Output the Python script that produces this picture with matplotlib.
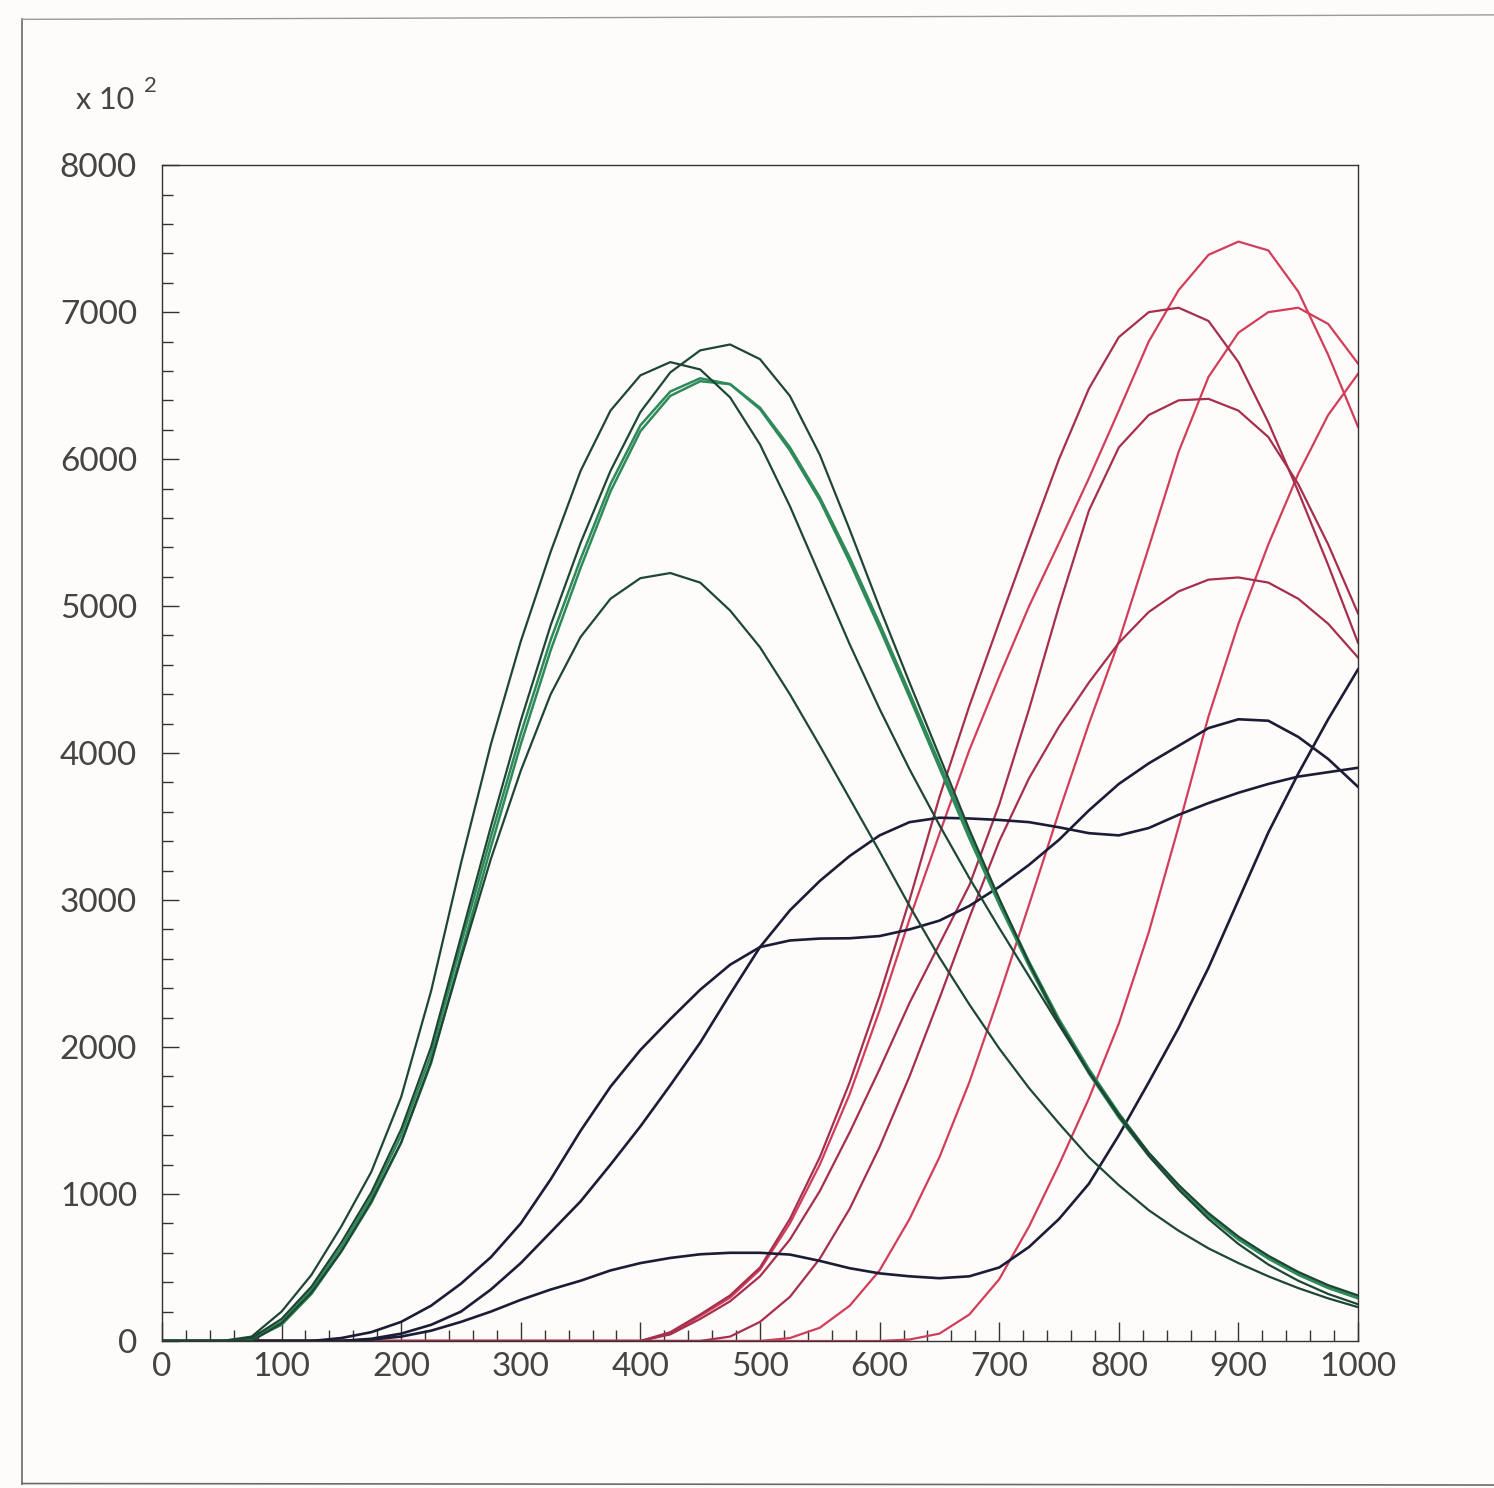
import matplotlib
matplotlib.use("Agg")
import matplotlib.pyplot as plt
from matplotlib.lines import Line2D
from matplotlib.ticker import MultipleLocator

# shared abscissa, read every 25 units
x = list(range(0, 1001, 25))

# dark green family
green_1 = [0, 0, 0, 30, 200, 450, 780, 1150, 1660, 2380, 3250, 4060, 4760, 5370, 5920, 6330,
           6570, 6660, 6610, 6420, 6100, 5680, 5210, 4740, 4300, 3890, 3510, 3150, 2810, 2480,
           2150, 1830, 1530, 1260, 1030, 830, 660, 520, 410, 320, 250]
green_2 = [0, 0, 0, 20, 150, 370, 670, 1010, 1440, 2000, 2750, 3500, 4220, 4870, 5430, 5920,
           6320, 6590, 6740, 6780, 6680, 6430, 6030, 5520, 4990, 4480, 3980, 3480, 3010, 2570,
           2170, 1830, 1540, 1280, 1060, 870, 710, 580, 470, 380, 310]
green_5 = [0, 0, 0, 0, 120, 330, 610, 950, 1350, 1900, 2600, 3280, 3880, 4400, 4790, 5050,
           5190, 5225, 5160, 4970, 4720, 4400, 4050, 3690, 3330, 2960, 2610, 2290, 1990, 1720,
           1480, 1250, 1060, 890, 750, 630, 530, 440, 360, 290, 230]
# bright green pair
pair_a = [0, 0, 0, 15, 130, 350, 640, 980, 1400, 1950, 2700, 3430, 4130, 4770, 5320, 5830,
          6230, 6460, 6550, 6510, 6340, 6060, 5720, 5300, 4850, 4380, 3900, 3420, 2970, 2550,
          2160, 1820, 1520, 1260, 1040, 850, 690, 560, 450, 360, 290]
pair_b = [0, 0, 0, 10, 110, 320, 610, 940, 1350, 1890, 2630, 3360, 4060, 4700, 5260, 5780,
          6190, 6430, 6530, 6510, 6350, 6080, 5740, 5330, 4880, 4410, 3930, 3450, 3000, 2580,
          2190, 1850, 1550, 1280, 1060, 860, 700, 570, 460, 370, 300]

# navy family
navy_a = [0, 0, 0, 0, 0, 0, 20, 60, 130, 240, 390, 570, 800, 1100, 1430, 1730,
          1980, 2190, 2390, 2560, 2680, 2725, 2738, 2740, 2755, 2800, 2860, 2960, 3090, 3240,
          3410, 3610, 3790, 3930, 4050, 4170, 4230, 4220, 4110, 3960, 3770]
navy_b = [0, 0, 0, 0, 0, 0, 0, 15, 50, 110, 200, 350, 530, 740, 950, 1200,
          1460, 1740, 2030, 2360, 2680, 2930, 3130, 3300, 3440, 3530, 3560, 3555, 3545, 3530,
          3495, 3455, 3440, 3490, 3580, 3660, 3730, 3790, 3840, 3870, 3900]
navy_c = [0, 0, 0, 0, 0, 0, 0, 10, 30, 70, 130, 200, 280, 350, 410, 480,
          530, 565, 590, 600, 600, 588, 545, 495, 460, 440, 427, 440, 500, 640,
          830, 1070, 1400, 1760, 2130, 2540, 3000, 3460, 3860, 4230, 4570]

# crimson family
red_a = [0] * 17 + [50, 170, 295, 485, 800, 1200, 1680, 2250, 2870, 3450, 4020, 4520, 5000,
                    5430, 5870, 6330, 6800, 7150, 7390, 7480, 7420, 7140, 6710, 6220]
red_b = [0] * 17 + [60, 180, 310, 500, 830, 1250, 1760, 2350, 3000, 3700, 4320, 4890, 5450,
                    6000, 6480, 6830, 7000, 7030, 6940, 6660, 6250, 5780, 5280, 4750]
red_c = [0] * 21 + [20, 90, 240, 480, 830, 1250, 1760, 2350, 2970,
                    3600, 4200, 4760, 5400, 6050, 6560, 6860, 7000, 7030, 6920, 6650]
red_d = [0] * 17 + [45, 150, 270, 440, 690, 1020, 1420, 1850, 2300, 2700, 3100, 3650, 4300,
                    5000, 5650, 6080, 6300, 6400, 6410, 6330, 6150, 5830, 5420, 4950]
red_e = [0] * 19 + [30, 130, 300, 560, 900, 1320, 1800, 2330, 2880, 3400, 3830,
                    4180, 4480, 4750, 4960, 5100, 5180, 5195, 5160, 5050, 4880, 4650]
red_f = [0] * 25 + [10, 50, 180, 420, 780, 1200, 1650, 2160, 2780, 3500, 4250, 4880,
                    5420, 5900, 6300, 6580]

x_ticks = list(range(0, 1001, 100))
y_ticks = list(range(0, 8001, 1000))

DARK_GREEN = '#1f4634'
BRIGHT_GREEN = '#2f8a5a'
NAVY = '#1c1c36'
CRIMSON = '#d23d5a'
MAROON = '#a62f4d'
PAPER = '#fdfcfa'
INK = '#444444'

plt.rcParams['font.family'] = ['Lato', 'DejaVu Sans']

fig = plt.figure(figsize=(14.94, 14.88), dpi=100, facecolor=PAPER)
ax = fig.add_axes([0.1084, 0.0988, 0.8006, 0.7902])
ax.set_facecolor(PAPER)

lw = 1.6
for ys in (red_f, red_c, red_a):
    ax.plot(x, ys, color=CRIMSON, lw=lw, solid_joinstyle='round')
for ys in (red_e, red_d, red_b):
    ax.plot(x, ys, color=MAROON, lw=lw, solid_joinstyle='round')
for ys in (navy_a, navy_b, navy_c):
    ax.plot(x, ys, color=NAVY, lw=1.9, solid_joinstyle='round')
for ys in (pair_a, pair_b):
    ax.plot(x, ys, color=BRIGHT_GREEN, lw=1.8, solid_joinstyle='round')
for ys in (green_1, green_2, green_5):
    ax.plot(x, ys, color=DARK_GREEN, lw=lw, solid_joinstyle='round')

ax.set_xlim(0, 1000)
ax.set_ylim(0, 8000)
ax.set_xticks(x_ticks)
ax.set_yticks(y_ticks)
ax.xaxis.set_minor_locator(MultipleLocator(20))
ax.yaxis.set_minor_locator(MultipleLocator(200))

ax.tick_params(axis='x', which='major', direction='in', length=14, width=1.0,
               color='#333333', pad=8, labelsize=24, labelcolor=INK)
ax.tick_params(axis='x', which='minor', direction='in', length=8, width=1.0, color='#333333')
ax.tick_params(axis='y', which='major', direction='in', length=12, width=1.0,
               color='#333333', pad=18, labelsize=24, labelcolor=INK)
ax.tick_params(axis='y', which='minor', direction='in', length=8, width=1.0, color='#333333')

for sp in ax.spines.values():
    sp.set_color('#333333')
    sp.set_linewidth(1.0)

# exponent note above the y axis
fig.text(0.051, 0.927, 'x 10', fontsize=22, color=INK, va='baseline')
fig.text(0.0965, 0.938, '2', fontsize=16, color=INK, va='baseline')

# page border from the scan
fig.add_artist(Line2D([0.0147, 0.0147], [0.003, 0.987], color='#6a6a6a', lw=1.2))
fig.add_artist(Line2D([0.0147, 1.0], [0.987, 0.990], color='#9a9a9a', lw=1.0))
fig.add_artist(Line2D([0.0147, 1.0], [0.003, 0.002], color='#6a6a6a', lw=1.2))

fig.savefig('out.png', dpi=100, facecolor=PAPER)
